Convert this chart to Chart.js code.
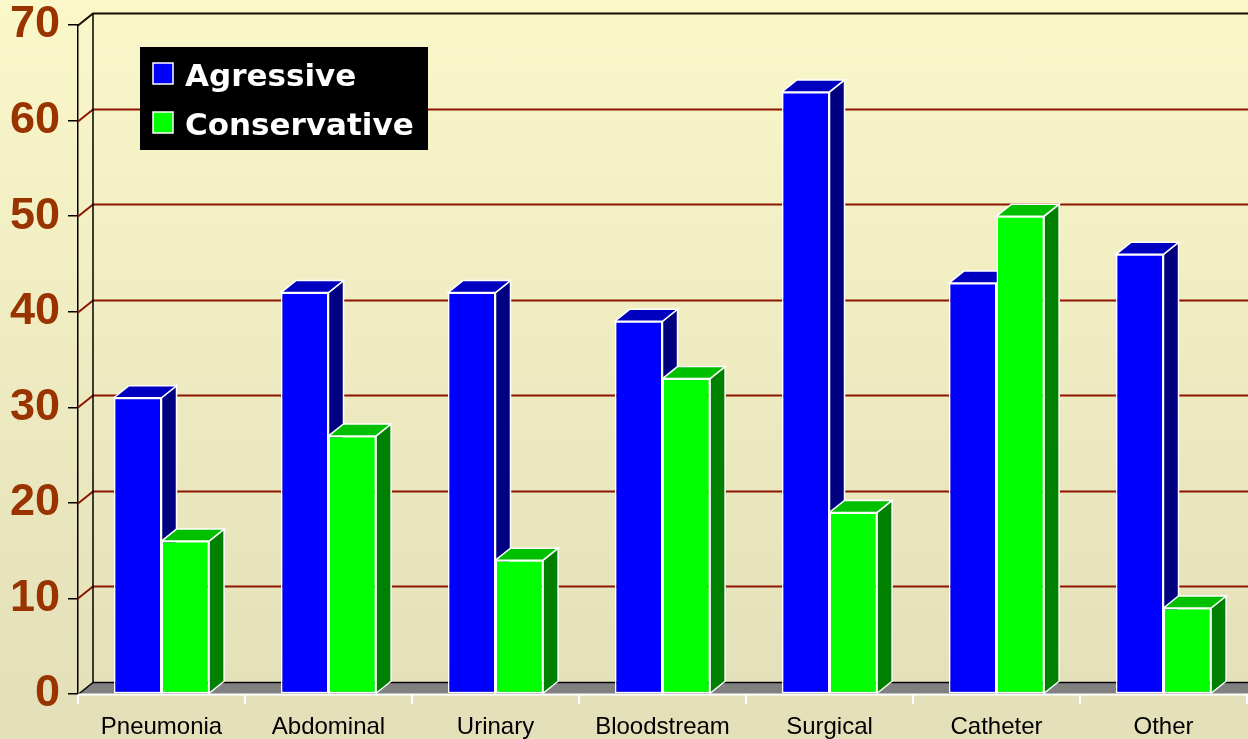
<!DOCTYPE html>
<html>
<head>
<meta charset="utf-8">
<script src="https://cdn.jsdelivr.net/npm/chart.js@4.4.1/dist/chart.umd.min.js"></script>
<style>
    html, body { margin: 0; padding: 0; }
    body {
        width: 1248px;
        height: 739px;
        overflow: hidden;
        background: linear-gradient(to bottom, #FAF7C9 0%, #EFECC2 45%, #E2DFB9 100%);
    }
    #wrap { position: relative; width: 1248px; height: 739px; }
</style>
</head>
<body>
<div id="wrap"><canvas id="myChart" width="1248" height="739"></canvas></div>
<script>
var categories = ['Pneumonia', 'Abdominal', 'Urinary', 'Bloodstream', 'Surgical', 'Catheter', 'Other'];
var agressive = [31, 42, 42, 39, 63, 43, 46];
var conservative = [16, 27, 14, 33, 19, 50, 9];
var yTicks = [0, 10, 20, 30, 40, 50, 60, 70];

// depth of the fake 3d box, in pixels
var DX = 15, DY = 12;

var faceColors = [
    { top: '#0000C0', side: '#000080' },
    { top: '#00C000', side: '#008000' }
];

function line(ctx, pts, color, width) {
    ctx.beginPath();
    ctx.moveTo(pts[0][0], pts[0][1]);
    for (var i = 1; i < pts.length; i++) ctx.lineTo(pts[i][0], pts[i][1]);
    ctx.strokeStyle = color;
    ctx.lineWidth = width;
    ctx.stroke();
}

function poly(ctx, pts, fill) {
    ctx.beginPath();
    ctx.moveTo(pts[0][0], pts[0][1]);
    for (var i = 1; i < pts.length; i++) ctx.lineTo(pts[i][0], pts[i][1]);
    ctx.closePath();
    ctx.fillStyle = fill;
    ctx.fill();
    ctx.strokeStyle = '#FFFFFF';
    ctx.lineWidth = 1.5;
    ctx.stroke();
}

// back wall, floor, gridlines and the top/side faces of each bar
var box3d = {
    id: 'box3d',
    beforeDatasetsDraw: function (chart) {
        var ctx = chart.ctx;
        var a = chart.chartArea;
        var y = chart.scales.y;
        var W = chart.width;
        ctx.save();

        // floor
        ctx.beginPath();
        ctx.moveTo(a.left, a.bottom);
        ctx.lineTo(a.left + DX, a.bottom - DY);
        ctx.lineTo(W + DX, a.bottom - DY);
        ctx.lineTo(W, a.bottom);
        ctx.closePath();
        ctx.fillStyle = '#808080';
        ctx.fill();

        // gridlines on the side and back walls
        yTicks.forEach(function (v) {
            if (v === 0 || v === 70) return;
            var py = Math.round(y.getPixelForValue(v)) + 0.5;
            line(ctx, [[a.left, py], [a.left + DX, py - DY], [W, py - DY]], '#8E1500', 2);
        });

        // wall edges
        var t = Math.round(a.top) + 0.5;
        var b = Math.round(a.bottom) + 0.5;
        line(ctx, [[a.left, t], [a.left + DX, t - DY], [W, t - DY]], '#1A0A00', 2);
        line(ctx, [[a.left + DX, t - DY], [a.left + DX, b - DY], [W, b - DY]], '#000000', 1.5);
        line(ctx, [[a.left, b], [a.left + DX, b - DY]], '#000000', 1.5);
        line(ctx, [[a.left, b], [W, b]], '#FFFFFF', 2);

        // top and side faces, group by group so the front bar hides the one behind
        for (var i = 0; i < categories.length; i++) {
            for (var d = 0; d < chart.data.datasets.length; d++) {
                var bar = chart.getDatasetMeta(d).data[i];
                var p = bar.getProps(['x', 'y', 'base', 'width'], true);
                var l = p.x - p.width / 2, r = p.x + p.width / 2;
                poly(ctx, [[r, p.y], [r + DX, p.y - DY], [r + DX, p.base - DY], [r, p.base]], faceColors[d].side);
                poly(ctx, [[l, p.y], [l + DX, p.y - DY], [r + DX, p.y - DY], [r, p.y]], faceColors[d].top);
            }
        }
        ctx.restore();
    },
    afterDraw: function (chart) {
        // legend box inside the plot
        var ctx = chart.ctx;
        var a = chart.chartArea;
        var bx = a.left + 62, by = a.top + 22;
        ctx.save();
        ctx.fillStyle = '#000000';
        ctx.fillRect(bx, by, 288, 103);
        ctx.font = 'bold 31px "DejaVu Sans", Verdana, sans-serif';
        ctx.textBaseline = 'alphabetic';
        chart.data.datasets.forEach(function (ds, k) {
            var sy = by + 16 + k * 49;
            ctx.fillStyle = ds.backgroundColor;
            ctx.fillRect(bx + 13, sy, 20, 21);
            ctx.strokeStyle = '#FFFFFF';
            ctx.lineWidth = 1.5;
            ctx.strokeRect(bx + 13, sy, 20, 21);
            ctx.fillStyle = '#FFFFFF';
            ctx.fillText(ds.label, bx + 45, sy + 23);
        });
        ctx.restore();
    }
};

var ctx = document.getElementById('myChart');
var myChart = new Chart(ctx, {
    type: 'bar',
    data: {
        labels: categories,
        datasets: [{
            label: 'Agressive',
            data: agressive,
            backgroundColor: '#0000FF',
            borderColor: '#FFFFFF',
            borderWidth: 1.5,
            borderSkipped: false
        }, {
            label: 'Conservative',
            data: conservative,
            backgroundColor: '#00FF00',
            borderColor: '#FFFFFF',
            borderWidth: 1.5,
            borderSkipped: false
        }]
    },
    options: {
        responsive: false,
        animation: false,
        categoryPercentage: 0.57,
        barPercentage: 1,
        layout: { padding: { top: 25, right: 1, left: 0, bottom: 0 } },
        plugins: {
            legend: { display: false },
            tooltip: { enabled: false },
            title: { display: false }
        },
        scales: {
            x: {
                grid: {
                    offset: true,
                    drawOnChartArea: false,
                    color: '#FFFFFF',
                    tickLength: 10,
                    lineWidth: 2
                },
                border: { display: false },
                ticks: {
                    color: '#000000',
                    padding: 9,
                    font: { family: '"Liberation Sans", Arial, sans-serif', size: 24 }
                },
                afterFit: function (scale) { scale.height = 45; }
            },
            y: {
                min: 0,
                max: 70,
                grid: {
                    drawOnChartArea: false,
                    color: '#000000',
                    tickLength: 10,
                    lineWidth: 1.5
                },
                border: { display: true, color: '#000000', width: 1.5 },
                ticks: {
                    stepSize: 10,
                    color: '#993300',
                    padding: 8,
                    font: { family: '"Liberation Sans", Arial, sans-serif', size: 45, weight: 'bold' }
                },
                afterFit: function (scale) {
                    scale.width = 78;
                    scale.paddingTop = 0;
                    scale.paddingBottom = 0;
                }
            }
        }
    },
    plugins: [box3d]
});
</script>
</body>
</html>
